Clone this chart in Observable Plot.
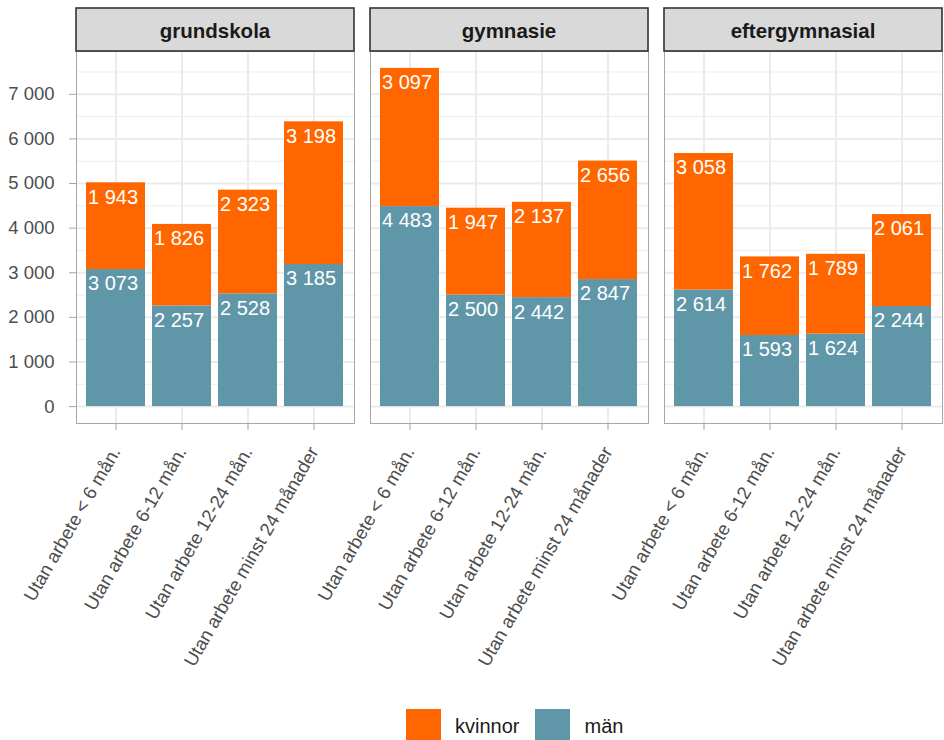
<!DOCTYPE html>
<html><head><meta charset="utf-8">
<script src="https://cdn.jsdelivr.net/npm/d3@7"></script>
<script src="https://cdn.jsdelivr.net/npm/@observablehq/plot@0.6"></script>
<style>
body{margin:0;background:#fff;font-family:"Liberation Sans",Arial,sans-serif;}
#wrap{position:relative;width:944px;height:740px;overflow:hidden;}
#legend{position:absolute;left:406px;top:709px;display:flex;align-items:center;font-size:20px;color:#1a1a1a;}
.sw{width:35px;height:35px;display:inline-block;}
</style></head><body>
<div id="wrap"><div id="chart"></div><div id="legend"></div></div>
<script>
const levels = ["grundskola", "gymnasie", "eftergymnasial"];
const categories = ["Utan arbete < 6 mån.", "Utan arbete 6-12 mån.", "Utan arbete 12-24 mån.", "Utan arbete minst 24 månader"];
const series = ["män", "kvinnor"];
const legendOrder = ["kvinnor", "män"];
const colors = ["#5f97a9", "#ff6600"];
// values per level, in category order
const manValues = [
  [3073, 2257, 2528, 3185],
  [4483, 2500, 2442, 2847],
  [2614, 1593, 1624, 2244]
];
const kvinnorValues = [
  [1943, 1826, 2323, 3198],
  [3097, 1947, 2137, 2656],
  [3058, 1762, 1789, 2061]
];
const yTicks = [0, 1000, 2000, 3000, 4000, 5000, 6000, 7000];
const yMinor = [500, 1500, 2500, 3500, 4500, 5500, 6500, 7500];

const data = [];
levels.forEach((lv, i) => {
  categories.forEach((c, j) => {
    data.push({level: lv, cat: c, sex: "män", value: manValues[i][j]});
    data.push({level: lv, cat: c, sex: "kvinnor", value: kvinnorValues[i][j]});
  });
});

const fmt = d3.formatLocale({decimal: ",", thousands: "\u00a0", grouping: [3], currency: ["", ""]}).format(",d");
const maxTotal = d3.max(levels.flatMap((lv, i) => categories.map((c, j) => manValues[i][j] + kvinnorValues[i][j])));
const pad = maxTotal * 0.05;

const plot = Plot.plot({
  width: 944, height: 700,
  marginLeft: 75, marginRight: 1, marginTop: 51, marginBottom: 277,
  style: {fontFamily: "'Liberation Sans', Arial, sans-serif", background: "#fff", overflow: "visible"},
  fx: {domain: levels, paddingInner: 0.0542, paddingOuter: 0, axis: null, label: null},
  x: {domain: categories, paddingInner: 0.1, paddingOuter: 0.15, label: null},
  y: {domain: [-pad, maxTotal + pad], label: null},
  color: {domain: series, range: colors},
  marks: [
    Plot.ruleY(yMinor, {stroke: "#ededed", strokeWidth: 1}),
    Plot.ruleY(yTicks, {stroke: "#ebebeb", strokeWidth: 2}),
    Plot.gridX({stroke: "#ebebeb", strokeOpacity: 1, strokeWidth: 2}),
    Plot.barY(data, {fx: "level", x: "cat", y: "value", fill: "sex", z: "sex", order: series}),
    Plot.text(data, Plot.stackY2({fx: "level", x: "cat", y: "value", z: "sex", order: series,
      text: d => fmt(d.value), fill: "white", fontSize: 20, dy: 14.5, dx: -3})),
    Plot.frame({stroke: "#a6a6a6", strokeWidth: 1}),
    Plot.axisY(yTicks, {tickFormat: fmt, tickSize: 7, tickPadding: 15, fontSize: 18.5, stroke: "#a6a6a6", fill: "#4d4d4d", label: null}),
    Plot.axisX({tickRotate: -60, tickSize: 7, tickPadding: 18, fontSize: 18.5, stroke: "#a6a6a6", fill: "#4d4d4d", label: null})
  ]
});
document.getElementById("chart").appendChild(plot);

// facet strips
const fx = plot.scale("fx");
const svg = d3.select(plot);
levels.forEach(lv => {
  const x0 = fx.apply(lv);
  const bw = fx.bandwidth;
  svg.append("rect").attr("x", x0).attr("y", 8).attr("width", bw).attr("height", 43)
    .attr("fill", "#d9d9d9").attr("stroke", "#333").attr("stroke-width", 1.6);
  svg.append("text").attr("x", x0 + bw / 2).attr("y", 30).attr("text-anchor", "middle")
    .attr("dominant-baseline", "central").attr("font-weight", "bold").attr("font-size", 20.5)
    .attr("fill", "#1a1a1a").text(lv);
});

// legend
const lg = document.getElementById("legend");
legendOrder.forEach((s, i) => {
  const sw = document.createElement("span");
  sw.className = "sw";
  sw.style.background = colors[series.indexOf(s)];
  if (i > 0) sw.style.marginLeft = "16px";
  const t = document.createElement("span");
  t.textContent = s;
  t.style.marginLeft = "14px";
  lg.appendChild(sw); lg.appendChild(t);
});
</script>
</body></html>
